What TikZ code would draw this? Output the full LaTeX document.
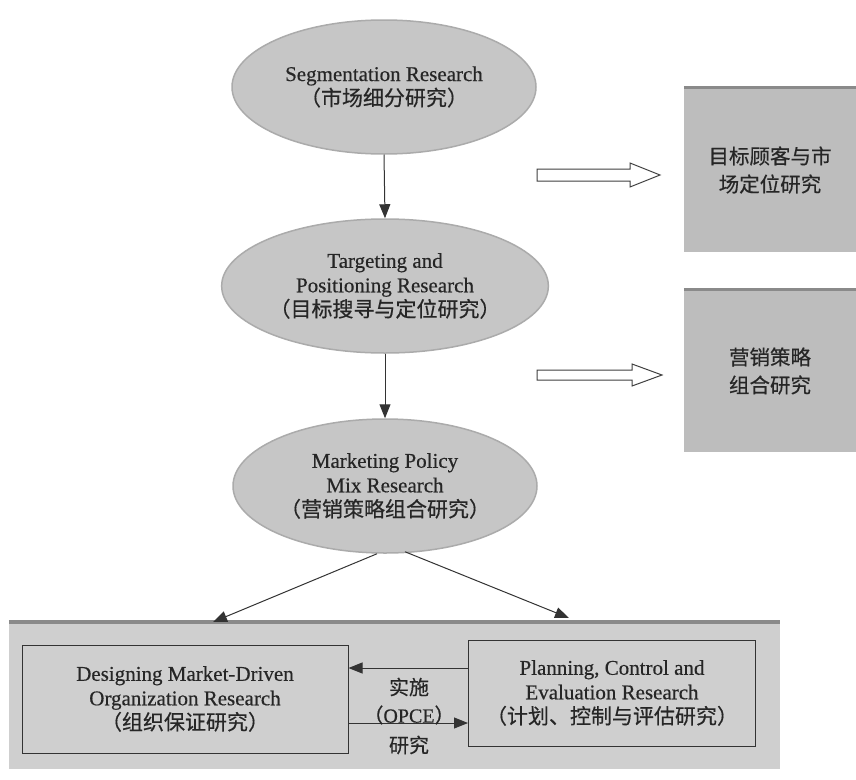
\documentclass[tikz,border=0pt]{standalone}
\usepackage{fontspec}
\setmainfont{Liberation Serif}[FakeBold=0.4]
\newfontfamily\cjk{Noto Sans CJK SC}[FakeBold=0.5]
\usetikzlibrary{shapes.geometric,arrows.meta}
\definecolor{txt}{HTML}{262626}
\definecolor{ellfill}{HTML}{C6C6C6}
\definecolor{ellrim}{HTML}{ABABAB}
\definecolor{boxfill}{HTML}{BDBDBD}
\definecolor{bigfill}{HTML}{CFCFCF}
\definecolor{edge}{HTML}{8A8A8A}
\tikzset{
  ell/.style={ellipse, fill=ellfill, draw=ellrim, line width=1.5pt, minimum width=304pt, minimum height=134pt, inner sep=0pt, align=center, text=txt, font=\fontsize{21}{24.5}\selectfont},
  sidebox/.style={rectangle, fill=boxfill, inner sep=0pt, align=center, text=txt, font=\cjk\fontsize{20.5}{28}\selectfont},
  inbox/.style={rectangle, draw=black!80, line width=1pt, fill=bigfill, inner sep=0pt, align=center, text=txt, font=\fontsize{21}{24.5}\selectfont},
  lbl/.style={text=txt, inner sep=0pt, font=\fontsize{20}{22}\selectfont},
  arr/.style={draw=black!80, line width=1pt, -{Triangle[length=14pt,width=11pt]}},
  hollow/.style={draw=black!75, line width=1pt, fill=white},
}
\begin{document}
\begin{tikzpicture}[x=1pt,y=-1pt]
\useasboundingbox (0,0) rectangle (856,779);
\fill[white] (0,0) rectangle (856,779);

% ellipses
\node[ell] (seg) at (384,87) {Segmentation Research\\{\cjk （市场细分研究）}};
\node[ell] (tar) at (385,286) {Targeting and\\Positioning Research\\{\cjk （目标搜寻与定位研究）}};
\node[ell] (mkt) at (385,486) {Marketing Policy\\Mix Research\\{\cjk （营销策略组合研究）}};

\draw[arr] (seg.south) -- (tar.north);
\draw[arr] (tar.south) -- (mkt.north);

% right boxes
\node[sidebox, minimum width=172pt, minimum height=164pt] (rb1) at (770,170) {目标顾客与市\\场定位研究};
\draw[edge, line width=3pt] (rb1.north west) -- (rb1.north east);
\node[sidebox, minimum width=172pt, minimum height=162pt] (rb2) at (770,371) {营销策略\\组合研究};
\draw[edge, line width=3pt] (rb2.north west) -- (rb2.north east);

% hollow block arrows
\draw[hollow] (537,169) -- (630,169) -- (630,163) -- (660,175) -- (630,187) -- (630,181) -- (537,181) -- cycle;
\draw[hollow] (537,370) -- (632,370) -- (632,364) -- (662,375) -- (632,386) -- (632,380) -- (537,380) -- cycle;

% big bottom box
\node[rectangle, fill=bigfill, minimum width=771pt, minimum height=149pt, inner sep=0pt] (big) at (394.5,694.5) {};
\draw[edge, line width=4pt] ([yshift=-2pt]big.north west) -- ([yshift=-2pt]big.north east);

\node[inbox, minimum width=326pt, minimum height=108pt] (des) at (185,699) {Designing Market-Driven\\Organization Research\\{\cjk （组织保证研究）}};
\node[inbox, minimum width=287pt, minimum height=106pt] (pce) at (612,693) {Planning, Control and\\Evaluation Research\\{\cjk （计划、控制与评估研究）}};

\coordinate (d1) at (213,622);
\coordinate (d2) at (569,618);
\draw[arr] ([xshift=-8pt]mkt.south) -- (d1);
\draw[arr] ([xshift=20pt,yshift=2pt]mkt.south) -- (d2);

\draw[arr] ([yshift=25pt]pce.west) coordinate (a1) -- (a1 -| des.east);
\draw[arr] ([yshift=-24pt]des.east) coordinate (a2) -- (a2 -| pce.west);

\node[lbl, font=\cjk\fontsize{20}{22}\selectfont] (l1) at (409,687) {实施};
\node[lbl] (l2) at (409,715) {{\cjk （}OPCE{\cjk ）}};
\node[lbl, font=\cjk\fontsize{20}{22}\selectfont] (l3) at (409,745) {研究};
\end{tikzpicture}
\end{document}
